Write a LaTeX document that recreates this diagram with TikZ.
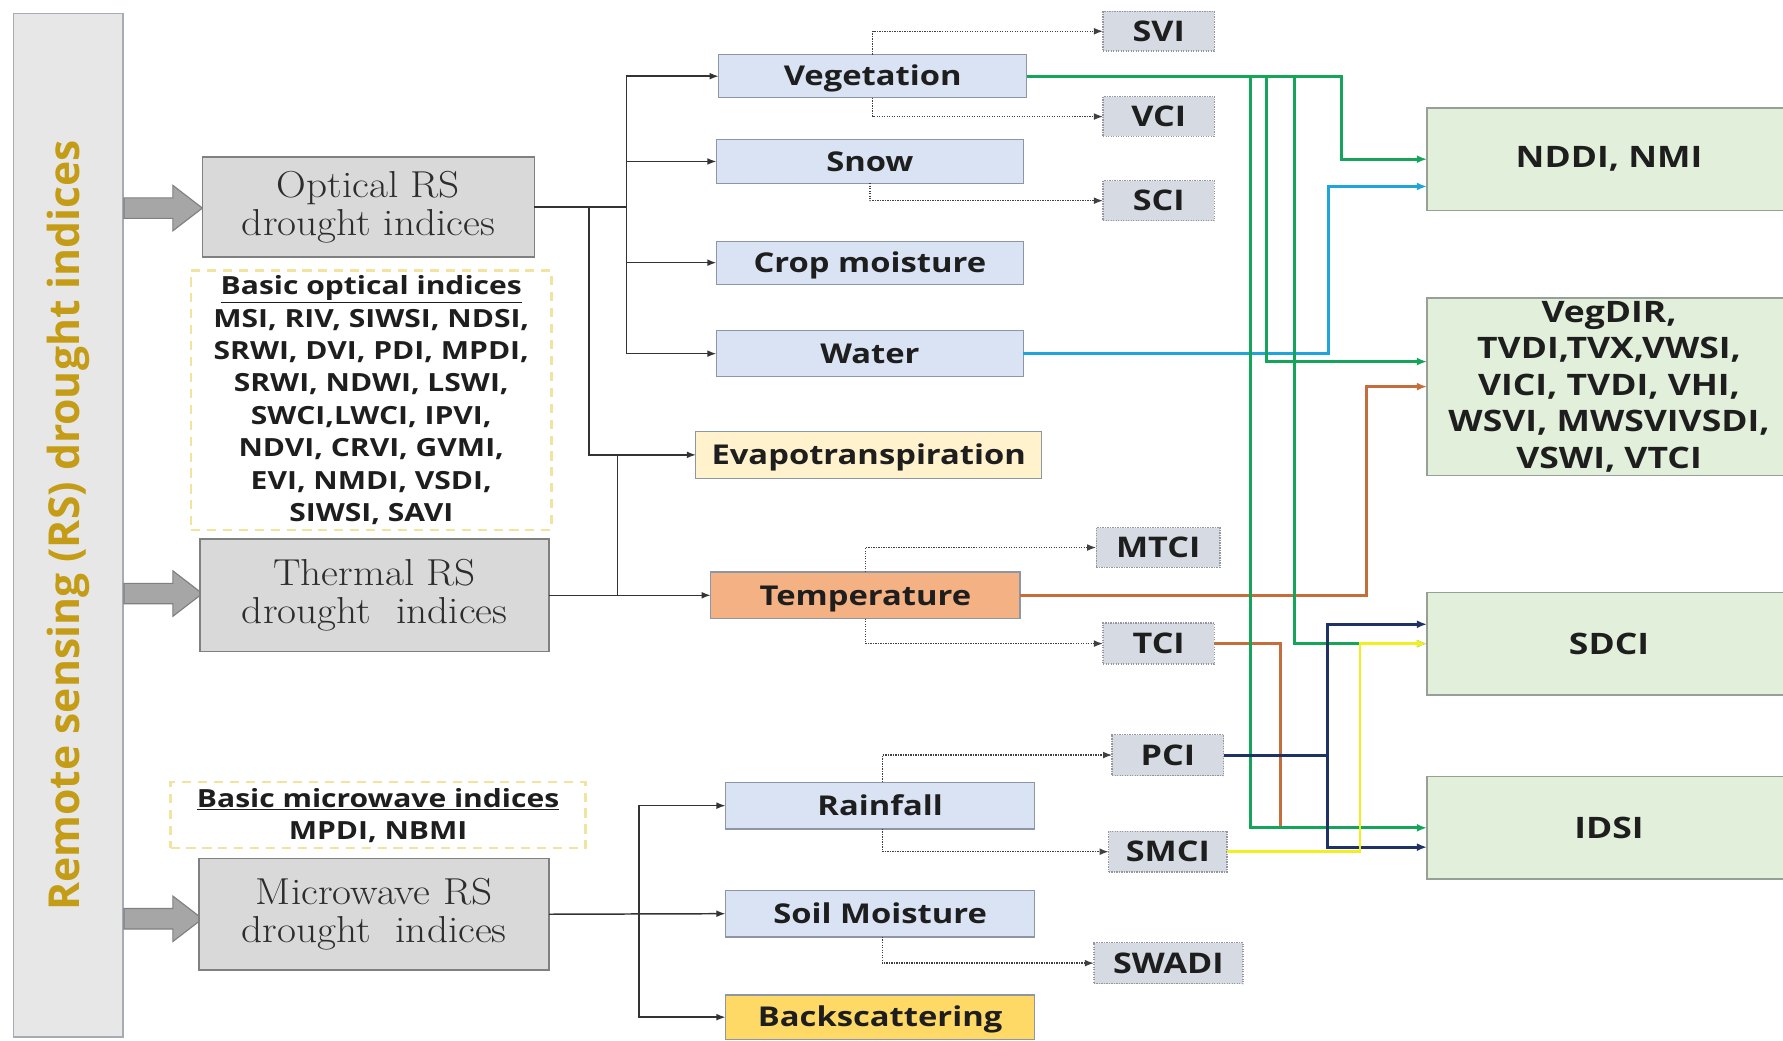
\documentclass[tikz,border=0pt]{standalone}
\usepackage{fontspec}
\setsansfont{Open Sans}
\newfontfamily\labfont{Open Sans}[FakeStretch=1.2]
\newfontfamily\serfont{Latin Modern Roman}[FakeStretch=1.1]
\usetikzlibrary{arrows.meta}
\definecolor{rsgold}{RGB}{196,156,22}
\definecolor{rsfill}{RGB}{231,231,231}
\definecolor{rsdraw}{RGB}{165,172,180}
\definecolor{srcfill}{RGB}{217,217,217}
\definecolor{srcdraw}{RGB}{128,128,128}
\definecolor{dashcol}{RGB}{240,228,160}
\definecolor{catfill}{RGB}{218,227,243}
\definecolor{catdraw}{RGB}{140,150,165}
\definecolor{evapfill}{RGB}{255,242,204}
\definecolor{tempfill}{RGB}{244,177,131}
\definecolor{backfill}{RGB}{255,217,102}
\definecolor{idxfill}{RGB}{214,218,226}
\definecolor{idxdraw}{RGB}{150,150,160}
\definecolor{resfill}{RGB}{226,239,218}
\definecolor{resdraw}{RGB}{150,160,150}
\definecolor{txt}{RGB}{30,30,30}
\definecolor{sertxt}{RGB}{45,45,45}
\definecolor{cgreen}{RGB}{20,165,90}
\definecolor{cblue}{RGB}{30,165,220}
\definecolor{cbrown}{RGB}{197,110,60}
\definecolor{cnavy}{RGB}{30,50,100}
\definecolor{cyellow}{RGB}{240,240,30}
\definecolor{arrgray}{RGB}{166,166,166}
\begin{document}
\begin{tikzpicture}[x=1pt,y=-1pt,
  every node/.style={inner sep=0pt, outer sep=0pt, text=txt},
  leftbox/.style={draw=rsdraw, fill=rsfill, line width=1.5pt, text=rsgold,
    font=\sffamily\bfseries\fontsize{37.5}{40}\selectfont},
  srcbox/.style={draw=srcdraw, fill=srcfill, line width=1.5pt, align=center, text=sertxt,
    font=\serfont\fontsize{33}{33}\selectfont},
  dashbox/.style={draw=dashcol, line width=2pt, dash pattern=on 8pt off 6pt, align=center,
    font=\labfont\bfseries\fontsize{22}{28.5}\selectfont},
  catbox/.style={draw=catdraw, fill=catfill, line width=1pt, text height=17.2pt, text depth=0pt,
    font=\labfont\bfseries\fontsize{24}{28}\selectfont},
  idxbox/.style={draw=idxdraw, fill=idxfill, line width=1.2pt, densely dotted, text height=17.9pt, text depth=0pt,
    font=\labfont\bfseries\fontsize{25}{28}\selectfont},
  resbox/.style={draw=resdraw, fill=resfill, line width=1.3pt, align=center,
    font=\labfont\bfseries\fontsize{26}{32}\selectfont},
  conn/.style={draw=black!80, line width=1.3pt},
  arr/.style={conn, -{Latex[length=8pt,width=6pt]}},
  dotarr/.style={draw=black!75, line width=1.2pt, densely dotted, -{Latex[length=8pt,width=6pt]}},
  cline/.style={line width=2.6pt},
  carr/.style={line width=2.6pt, -{Latex[length=9pt,width=7pt]}},
  grayarrow/.pic={\draw[fill=arrgray, draw=srcdraw, line width=1pt]
     (0,-9) -- (43,-9) -- (43,-20) -- (69,0) -- (43,20) -- (43,9) -- (0,9) -- cycle;}
]
\useasboundingbox (0,0) rectangle (1568,915);
\fill[white] (0,0) rectangle (1568,915);

% left column
\node[leftbox, rotate=90, minimum width=900pt, minimum height=96pt] (rs) at (60,462) {Remote sensing (RS) drought indices};

\pic at (109,183) {grayarrow};
\pic at (109,522) {grayarrow};
\pic at (109,808) {grayarrow};

\node[srcbox, minimum width=292pt, minimum height=88pt] (opt) at (324,182) {Optical RS\\drought indices};
\node[dashbox, minimum width=317pt, minimum height=228pt] (bopt) at (326.5,352)
  {\underline{Basic optical indices}\\MSI, RIV, SIWSI, NDSI,\\SRWI, DVI, PDI, MPDI,\\SRWI, NDWI, LSWI,\\SWCI,LWCI, IPVI,\\NDVI, CRVI, GVMI,\\EVI, NMDI, VSDI,\\SIWSI, SAVI};
\node[srcbox, minimum width=307pt, minimum height=99pt] (therm) at (329.5,523.5) {Thermal RS\\drought\ \ indices};
\node[dashbox, minimum width=365pt, minimum height=58pt] (bmw) at (332.5,717)
  {\underline{Basic microwave indices}\\MPDI, NBMI};
\node[srcbox, minimum width=308pt, minimum height=98pt] (mw) at (329,804) {Microwave RS\\drought\ \ indices};

% categories
\node[catbox, minimum width=271pt, minimum height=38pt] (veg) at (767.5,67) {Vegetation};
\node[catbox, minimum width=270pt, minimum height=38pt] (snow) at (765,142) {Snow};
\node[catbox, minimum width=270pt, minimum height=38pt] (crop) at (765,231) {Crop moisture};
\node[catbox, minimum width=270pt, minimum height=40pt] (water) at (765,311) {Water};
\node[catbox, fill=evapfill, minimum width=304pt, minimum height=41pt] (evap) at (764,400) {Evapotranspiration};
\node[catbox, fill=tempfill, minimum width=272pt, minimum height=41pt] (temp) at (761,523.5) {Temperature};
\node[catbox, minimum width=272pt, minimum height=41pt] (rain) at (774,708.5) {Rainfall};
\node[catbox, minimum width=272pt, minimum height=41pt] (soil) at (774,803.5) {Soil Moisture};
\node[catbox, fill=backfill, minimum width=272pt, minimum height=39pt] (back) at (774,894.5) {Backscattering};

% index boxes
\node[idxbox, minimum width=98pt, minimum height=35pt] (svi) at (1019,27.5) {SVI};
\node[idxbox, minimum width=98pt, minimum height=35pt] (vci) at (1019,102.5) {VCI};
\node[idxbox, minimum width=98pt, minimum height=35pt] (sci) at (1019,176.5) {SCI};
\node[idxbox, minimum width=109pt, minimum height=35pt] (mtci) at (1018.5,481.5) {MTCI};
\node[idxbox, minimum width=98pt, minimum height=36pt] (tci) at (1019,566) {TCI};
\node[idxbox, minimum width=98pt, minimum height=36pt] (pci) at (1027,664) {PCI};
\node[idxbox, minimum width=104pt, minimum height=36pt] (smci) at (1027,749) {SMCI};
\node[idxbox, minimum width=131pt, minimum height=36pt] (swadi) at (1027.5,847) {SWADI};

% result boxes
\node[resbox, minimum width=320pt, minimum height=90pt] (nddi) at (1415,140) {NDDI, NMI};
\node[resbox, minimum width=320pt, minimum height=156pt] (vegdir) at (1415,340)
  {VegDIR,\\TVDI,TVX,VWSI,\\VICI, TVDI, VHI,\\WSVI, MWSVIVSDI,\\VSWI, VTCI};
\node[resbox, minimum width=320pt, minimum height=90pt] (sdci) at (1415,566) {SDCI};
\node[resbox, minimum width=320pt, minimum height=90pt] (idsi) at (1415,728) {IDSI};

% black connectors
\coordinate (oj) at (551,182);
\coordinate (ej) at (518,182);
\coordinate (tj) at (543,523.5);
\coordinate (mj) at (562,804);
\draw[conn] (opt.east) -- (oj);
\draw[arr] (oj) |- (veg.west);
\draw[arr] (oj) |- (snow.west);
\draw[arr] (oj) |- (crop.west);
\draw[arr] (oj) |- (water.west);
\draw[arr] (ej) |- (evap.west);
\draw[arr] (therm.east) -- (temp.west);
\draw[conn] (tj) -- (tj |- evap.west);
\draw[arr] (mw.east) -- (soil.west);
\draw[arr] (mj) |- (rain.west);
\draw[arr] (mj) |- (back.west);

% dotted connectors
\draw[dotarr] (veg.north) |- (svi.west);
\draw[dotarr] (veg.south) |- (vci.west);
\draw[dotarr] (snow.south) |- (sci.west);
\draw[dotarr] (temp.north) |- (mtci.west);
\draw[dotarr] (temp.south) |- (tci.west);
\draw[dotarr] ([xshift=2pt]rain.north) |- (pci.west);
\draw[dotarr] ([xshift=2pt]rain.south) |- (smci.west);
\draw[dotarr] ([xshift=2pt]soil.south) |- (swadi.west);

% coloured connectors
\coordinate (xg0) at (1180,0);
\coordinate (xg1) at (1100,0);
\coordinate (xg2) at (1114,0);
\coordinate (xg3) at (1138,0);
\coordinate (xb) at (1168,0);
\coordinate (xbr) at (1202,0);
\coordinate (xbt) at (1126,0);
\coordinate (xn) at (1167,0);
\coordinate (xy) at (1196,0);

\draw[carr, cbrown] (temp.east) -- (temp.east -| xbr) |- (vegdir.west);
\draw[cline, cbrown] (tci.east) -- (tci.east -| xbt) -- (xbt |- idsi.west);
\draw[carr, cblue] (water.east) -- (water.east -| xb) |- ([yshift=-24pt]nddi.west);
\draw[carr, cgreen] (veg.east) -- (veg.east -| xg0) |- (nddi.west);
\draw[carr, cgreen] (veg.east -| xg1) |- (idsi.west);
\draw[carr, cgreen] (veg.east -| xg2) |- ([yshift=22pt]vegdir.west);
\draw[carr, cgreen] (veg.east -| xg3) |- (sdci.west);
\draw[carr, cnavy] (pci.east) -- (pci.east -| xn) |- ([yshift=17pt]sdci.west);
\draw[carr, cnavy] (pci.east -| xn) |- ([yshift=-17pt]idsi.west);
\draw[carr, cyellow] (smci.east) -- (smci.east -| xy) |- (sdci.west);
\end{tikzpicture}
\end{document}
